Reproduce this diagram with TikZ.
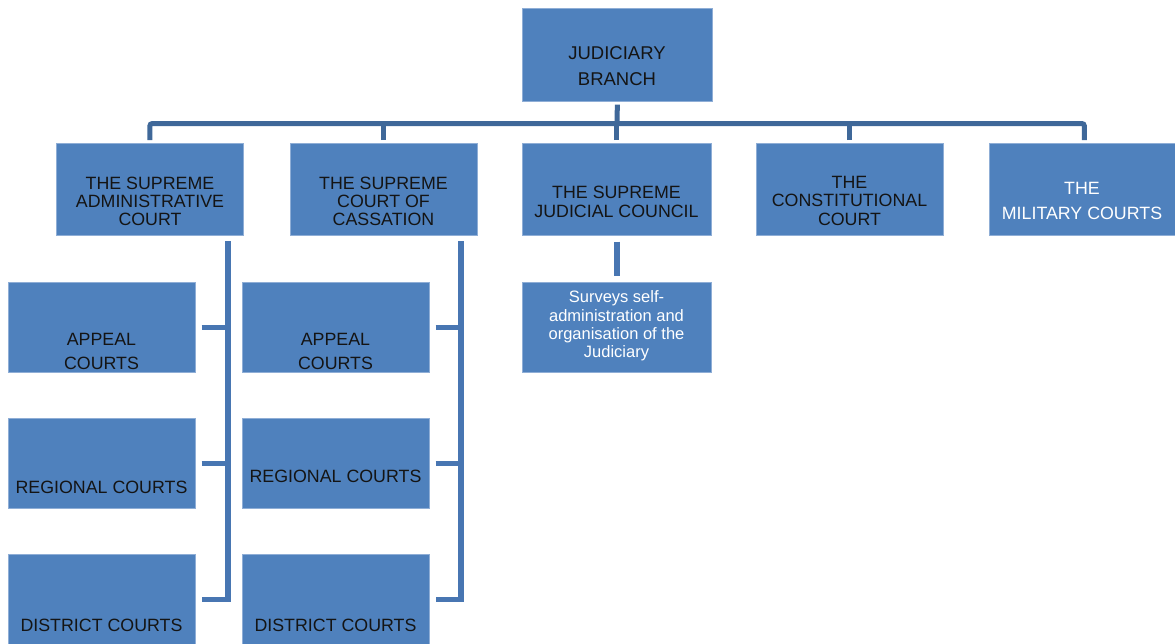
\documentclass[tikz,border=0pt]{standalone}
\usepackage{fontspec}
\setmainfont{Liberation Sans}
\definecolor{boxfill}{HTML}{4F81BD}
\definecolor{boxedge}{HTML}{8FAED6}
\definecolor{busblue}{HTML}{3F6899}
\definecolor{sideblue}{HTML}{4876B2}
\definecolor{txtdark}{HTML}{141414}
\begin{document}
\begin{tikzpicture}[x=1pt,y=-1pt,
  box/.style={draw=boxedge, line width=0.7pt, fill=boxfill, rectangle, inner sep=0pt,
    anchor=north west, minimum width=187pt, minimum height=92pt},
  subbox/.style={box, minimum height=90pt},
  lbl/.style={font=\fontsize{17.8}{18}\selectfont, text=txtdark, inner sep=0pt, align=center, anchor=center},
  wlbl/.style={lbl, text=white},
  bus/.style={draw=busblue, line width=5pt},
  side/.style={draw=sideblue, line width=5.5pt}]
\useasboundingbox (0,0) rectangle (1175,643);
\clip (0,0) rectangle (1175,643);
% boxes
\node[box, minimum width=190pt, minimum height=93pt] (top) at (522,8) {};
\node[box] (b1) at (56,143) {};
\node[box] (b2) at (290,143) {};
\node[box, minimum width=189pt] (b3) at (522,143) {};
\node[box] (b4) at (756,143) {};
\node[box, minimum width=190pt] (b5) at (989,143) {};
\node[subbox] (a1) at (8,282) {};
\node[subbox] (r1) at (8,418) {};
\node[subbox] (d1) at (8,554) {};
\node[subbox] (a2) at (242,282) {};
\node[subbox] (r2) at (242,418) {};
\node[subbox] (d2) at (242,554) {};
\node[subbox, minimum width=189pt] (sv) at (522,282) {};
% labels
\node[lbl, font=\fontsize{18.5}{26}\selectfont] (ttop) at (617,66) {JUDICIARY\\BRANCH};
\node[lbl] (tb1) at (150,201) {THE SUPREME\\ADMINISTRATIVE\\COURT};
\node[lbl] (tb2) at (383.5,201) {THE SUPREME\\COURT OF\\CASSATION};
\node[lbl, font=\fontsize{17.8}{19}\selectfont] (tb3) at (616.5,201.5) {THE SUPREME\\JUDICIAL COUNCIL};
\node[lbl, font=\fontsize{17.8}{18.5}\selectfont] (tb4) at (849.5,200.5) {THE\\CONSTITUTIONAL\\COURT};
\node[wlbl, font=\fontsize{17.8}{25}\selectfont] (tb5) at (1082,200.5) {THE\\MILITARY COURTS};
\node[lbl, font=\fontsize{17.8}{24}\selectfont] (ta1) at (101.5,351) {APPEAL\\COURTS};
\node[lbl, font=\fontsize{17.8}{24}\selectfont] (ta2) at (335.5,351) {APPEAL\\COURTS};
\node[lbl] (tr1) at (101.5,487) {REGIONAL COURTS};
\node[lbl] (tr2) at (335.5,476) {REGIONAL COURTS};
\node[lbl] (td1) at (101.5,625) {DISTRICT COURTS};
\node[lbl] (td2) at (335.5,625) {DISTRICT COURTS};
\node[wlbl, font=\fontsize{16.5}{18.3}\selectfont] (tsv) at (616.5,326) {Surveys self-\\administration and\\organisation of the\\Judiciary};
% top bus
\coordinate (bus) at (617,123.5);
\draw[bus] ([yshift=-3pt]top.south) -- (bus);
\draw[bus, rounded corners=2.5pt] ([yshift=3pt]b1.north) |- (bus) -| ([yshift=3pt]b5.north);
\draw[bus] ([yshift=3pt]b2.north) -- (b2.north |- bus);
\draw[bus] ([yshift=3pt]b3.north) -- (b3.north |- bus);
\draw[bus] ([yshift=3pt]b4.north) -- (b4.north |- bus);
% council child
\draw[side] ([yshift=-6pt]b3.south) -- ([yshift=6pt]sv.north);
% side trees
\coordinate (s1) at (228,241);
\coordinate (s2) at (461,241);
\draw[side] (s1) |- ([xshift=6pt]d1.east);
\draw[side] ([xshift=6pt]a1.east) -- (a1.east -| s1);
\draw[side] ([xshift=6pt]r1.east) -- (r1.east -| s1);
\draw[side] (s2) |- ([xshift=6pt]d2.east);
\draw[side] ([xshift=6pt]a2.east) -- (a2.east -| s2);
\draw[side] ([xshift=6pt]r2.east) -- (r2.east -| s2);
\end{tikzpicture}
\end{document}
